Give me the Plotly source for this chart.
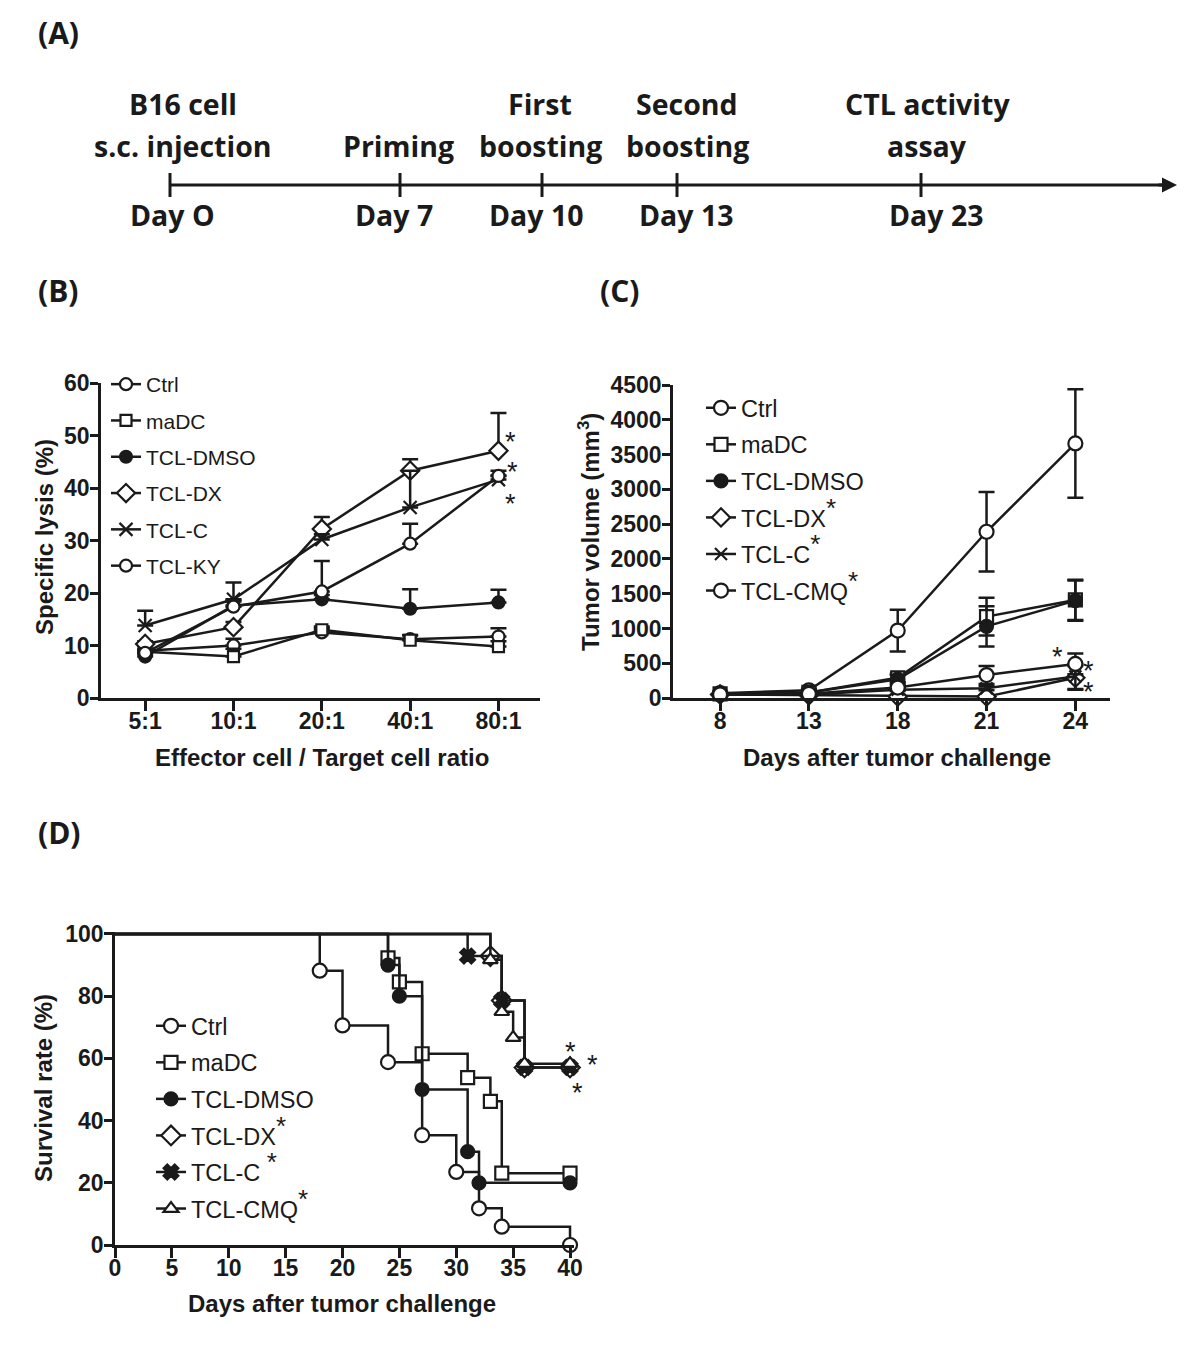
import plotly.graph_objects as go

W, H = 1200, 1352

# ---------------- data ----------------
# (A) immunisation schedule
event_top = ["B16 cell", "", "First", "Second", "CTL activity"]
event_bottom = ["s.c. injection", "Priming", "boosting", "boosting", "assay"]
event_days = ["Day O", "Day 7", "Day 10", "Day 13", "Day 23"]

# (B) CTL activity
ratio_labels = ["5:1", "10:1", "20:1", "40:1", "80:1"]
lysis_names = ["Ctrl", "maDC", "TCL-DMSO", "TCL-DX", "TCL-C", "TCL-KY"]
lysis_ctrl = [9.0, 10.0, 12.5, 11.2, 11.7]
lysis_madc = [8.8, 7.9, 13.0, 11.0, 9.8]
lysis_dmso = [7.9, 17.6, 18.8, 17.0, 18.2]
lysis_dx = [10.3, 13.5, 32.2, 43.3, 47.1]
lysis_c = [13.8, 18.8, 30.2, 36.3, 41.6]
lysis_ky = [8.6, 17.4, 20.3, 29.4, 42.3]
lysis_ctrl_err = [0.8, 1.3, 0.8, 0.8, 1.6]
lysis_madc_err = [0.5, 1.5, 0.6, 0.9, 1.0]
lysis_dmso_err = [0.5, 1.0, 0.8, 3.7, 2.4]
lysis_dx_err = [0.5, 1.0, 2.3, 2.2, 7.2]
lysis_c_err = [2.8, 3.2, 1.0, 7.0, 0.8]
lysis_ky_err = [0.6, 1.0, 5.8, 3.8, 1.0]

# (C) tumour growth
STAR = "<sup><span style='font-size:26px'>*</span></sup>"
tumor_days = ["8", "13", "18", "21", "24"]
tumor_names = ["Ctrl", "maDC", "TCL-DMSO", "TCL-DX" + STAR, "TCL-C" + STAR, "TCL-CMQ" + STAR]
vol_ctrl = [70, 110, 970, 2390, 3660]
vol_madc = [60, 80, 290, 1170, 1410]
vol_dmso = [60, 80, 270, 1030, 1400]
vol_dx = [50, 40, 20, 20, 290]
vol_c = [50, 50, 120, 140, 310]
vol_cmq = [50, 60, 150, 330, 490]
vol_ctrl_err = [20, 20, 300, 570, 780]
vol_madc_err = [20, 20, 60, 270, 290]
vol_dmso_err = [20, 20, 60, 290, 290]
vol_dx_err = [10, 10, 10, 10, 170]
vol_c_err = [10, 10, 20, 30, 180]
vol_cmq_err = [10, 10, 30, 130, 150]

# (D) survival (Kaplan-Meier steps)
surv_names = ["Ctrl", "maDC", "TCL-DMSO", "TCL-DX" + STAR, "TCL-C " + STAR, "TCL-CMQ" + STAR]
surv_ctrl_t = [0, 18, 20, 24, 27, 30, 32, 34, 40]
surv_ctrl_s = [100, 88.2, 70.6, 58.8, 35.3, 23.5, 11.8, 5.9, 0]
surv_madc_t = [0, 24, 25, 27, 31, 33, 34, 40]
surv_madc_s = [100, 92.3, 84.6, 61.5, 53.8, 46.2, 23.1, 23.1]
surv_dmso_t = [0, 24, 25, 27, 31, 32, 40]
surv_dmso_s = [100, 90, 80, 50, 30, 20, 20]
surv_dx_t = [0, 33, 34, 36, 40]
surv_dx_s = [100, 92.9, 78.6, 57.1, 57.1]
surv_c_t = [0, 31, 34, 36, 40]
surv_c_s = [100, 92.9, 78.6, 57.1, 57.1]
surv_cmq_t = [0, 33, 34, 35, 36, 40]
surv_cmq_s = [100, 91.7, 75, 66.7, 58.3, 58.3]

# ---------------- styling ----------------
BOLD = "Liberation Sans, Arial, sans-serif"
REG = "Liberation Sans, Arial, sans-serif"
CAL = "Open Sans, Lato, sans-serif"
BLACK = "#1a1a1a"
LW = 2.5


def px(x):
    return x / W


def py(y):
    return 1 - y / H


fig = go.Figure()

styles_B = [
    dict(symbol="circle", color="white", size=12),
    dict(symbol="square", color="white", size=11),
    dict(symbol="circle", color=BLACK, size=12),
    dict(symbol="diamond", color="white", size=14),
    dict(symbol="x-thin-open", color=BLACK, size=13),
    dict(symbol="circle", color="white", size=12),
]
B_vals = [lysis_ctrl, lysis_madc, lysis_dmso, lysis_dx, lysis_c, lysis_ky]
B_errs = [lysis_ctrl_err, lysis_madc_err, lysis_dmso_err, lysis_dx_err, lysis_c_err, lysis_ky_err]
for i, (name, vals, errs, st) in enumerate(zip(lysis_names, B_vals, B_errs, styles_B)):
    fig.add_trace(go.Scatter(
        x=ratio_labels, y=vals, name=name, mode="lines+markers",
        xaxis="x", yaxis="y", legend="legend", legendgroup="b%d" % i,
        line=dict(color=BLACK, width=LW),
        marker=dict(symbol=st["symbol"], size=st["size"], color=st["color"],
                    line=dict(color=BLACK, width=2.2)),
        error_y=dict(type="data", symmetric=False, array=errs, arrayminus=[0] * len(errs),
                     color=BLACK, thickness=LW, width=8),
        cliponaxis=False,
    ))

styles_C = [
    dict(symbol="circle", color="white", size=14),
    dict(symbol="square", color="white", size=13),
    dict(symbol="circle", color=BLACK, size=13),
    dict(symbol="diamond", color="white", size=14),
    dict(symbol="x-thin-open", color=BLACK, size=12),
    dict(symbol="circle", color="white", size=14),
]
C_vals = [vol_ctrl, vol_madc, vol_dmso, vol_dx, vol_c, vol_cmq]
C_errs = [vol_ctrl_err, vol_madc_err, vol_dmso_err, vol_dx_err, vol_c_err, vol_cmq_err]
for i, (name, vals, errs, st) in enumerate(zip(tumor_names, C_vals, C_errs, styles_C)):
    fig.add_trace(go.Scatter(
        x=tumor_days, y=vals, name=name, mode="lines+markers",
        xaxis="x2", yaxis="y2", legend="legend2", legendgroup="c%d" % i,
        line=dict(color=BLACK, width=LW),
        marker=dict(symbol=st["symbol"], size=st["size"], color=st["color"],
                    line=dict(color=BLACK, width=2.2)),
        error_y=dict(type="data", array=errs, color=BLACK, thickness=LW, width=8),
        cliponaxis=False,
    ))

styles_D = [
    dict(symbol="circle", color="white", size=14),
    dict(symbol="square", color="white", size=13),
    dict(symbol="circle", color=BLACK, size=13),
    dict(symbol="diamond", color="white", size=15),
    dict(symbol="x", color=BLACK, size=13),
    dict(symbol="triangle-up", color="white", size=13),
]
D_t = [surv_ctrl_t, surv_madc_t, surv_dmso_t, surv_dx_t, surv_c_t, surv_cmq_t]
D_s = [surv_ctrl_s, surv_madc_s, surv_dmso_s, surv_dx_s, surv_c_s, surv_cmq_s]
for i, (name, t, s, st) in enumerate(zip(surv_names, D_t, D_s, styles_D)):
    mk = dict(symbol=st["symbol"], size=st["size"], color=st["color"],
              line=dict(color=BLACK, width=2.2))
    fig.add_trace(go.Scatter(
        x=t, y=s, mode="lines", line=dict(color=BLACK, width=LW, shape="hv"),
        xaxis="x3", yaxis="y3", showlegend=False, hoverinfo="skip",
    ))
    fig.add_trace(go.Scatter(
        x=t[1:], y=s[1:], mode="markers", marker=mk, name=name,
        xaxis="x3", yaxis="y3", showlegend=False, cliponaxis=False,
    ))
    fig.add_trace(go.Scatter(
        x=[None], y=[None], mode="lines+markers", name=name, marker=mk,
        line=dict(color=BLACK, width=LW), xaxis="x3", yaxis="y3",
        legend="legend3", legendgroup="d%d" % i,
    ))

axis_common = dict(
    showline=True, linecolor=BLACK, linewidth=LW, ticks="outside",
    tickwidth=LW, tickcolor=BLACK, showgrid=False, zeroline=False,
    tickfont=dict(family=BOLD, size=23, color=BLACK, weight="bold"),
    fixedrange=True, automargin=False,
)
xax = dict(axis_common, ticklen=10, ticklabelstandoff=-9)
yax = dict(axis_common, ticklen=8, ticklabelstandoff=-4)

layout = dict(
    width=W, height=H, margin=dict(l=0, r=0, t=0, b=0, autoexpand=False),
    paper_bgcolor="white", plot_bgcolor="rgba(0,0,0,0)",
    showlegend=True,
    xaxis=dict(xax, domain=[px(101), px(540)], anchor="y", type="category",
               range=[-0.5, 4.47]),
    yaxis=dict(yax, domain=[py(698), py(383)], anchor="x", range=[0, 60], dtick=10),
    xaxis2=dict(xax, domain=[px(673), px(1110)], anchor="y2", type="category",
                range=[-0.53, 4.39]),
    yaxis2=dict(yax, domain=[py(698), py(385)], anchor="x2", range=[0, 4500], dtick=500),
    xaxis3=dict(xax, domain=[px(115), px(574)], anchor="y3", range=[0, 40.35], dtick=5),
    yaxis3=dict(yax, domain=[py(1245), py(931.5)], anchor="x3", range=[0, 100.8],
                tickvals=[0, 20, 40, 60, 80, 100]),
)
leg_common = dict(
    bgcolor="rgba(0,0,0,0)", traceorder="grouped", xanchor="left", yanchor="top",
    itemclick=False, itemdoubleclick=False,
)
layout["legend"] = dict(leg_common, x=px(106), y=py(364), tracegroupgap=6,
                        font=dict(family=REG, size=21, color=BLACK))
layout["legend2"] = dict(leg_common, x=px(701), y=py(386), tracegroupgap=3,
                         font=dict(family=REG, size=23.5, color=BLACK))
layout["legend3"] = dict(leg_common, x=px(151), y=py(1004), tracegroupgap=3,
                         font=dict(family=REG, size=23.5, color=BLACK))
fig.update_layout(**layout)

ann = []


def add_text(x, y, text, size, family, bold=True, angle=0, xanchor="center"):
    ann.append(dict(x=x, y=y, xref="paper", yref="paper", text=text, showarrow=False,
                    xanchor=xanchor, yanchor="middle", textangle=angle,
                    font=dict(family=family, size=size, color=BLACK,
                              weight="bold" if bold else "normal")))


# panel letters
for lab, x, y in [("(A)", 36, 32), ("(B)", 36, 290), ("(C)", 598, 290), ("(D)", 36, 832)]:
    add_text(px(x), py(y), lab, 30, CAL, xanchor="left")

# axis titles
add_text(px(322), py(757), "Effector cell / Target cell ratio", 24, BOLD)
add_text(px(44), py(537), "Specific lysis (%)", 24, BOLD, angle=-90)
add_text(px(897), py(757), "Days after tumor challenge", 24, BOLD)
add_text(px(589), py(532), "Tumor volume (mm<sup>3</sup>)", 24, BOLD, angle=-90)
add_text(px(342), py(1303), "Days after tumor challenge", 24, BOLD)
add_text(px(43), py(1088), "Survival rate (%)", 24, BOLD, angle=-90)

# (A) schedule diagram (schematic positions)
tick_px = [170, 400, 542, 677, 921]
label_px = [183, 398, 540, 687, 927]
day_px = [172, 394, 536, 686, 936]
line_y = 185
shapes = [dict(type="line", xref="paper", yref="paper", x0=px(tick_px[0]), x1=px(1168),
               y0=py(line_y), y1=py(line_y), line=dict(color=BLACK, width=3))]
for tx in tick_px:
    shapes.append(dict(type="line", xref="paper", yref="paper", x0=px(tx), x1=px(tx),
                       y0=py(173), y1=py(197), line=dict(color=BLACK, width=3)))
for top, bot, day, lx, dx in zip(event_top, event_bottom, event_days, label_px, day_px):
    if top:
        add_text(px(lx), py(104), top, 28.5, CAL)
    add_text(px(lx), py(146), bot, 28.5, CAL)
    add_text(px(dx), py(215), day, 28.5, CAL)
ann.append(dict(x=px(1177), y=py(line_y), xref="paper", yref="paper", ax=-20, ay=0,
                showarrow=True, arrowhead=2, arrowsize=1, arrowwidth=3, arrowcolor=BLACK,
                text=""))

# significance asterisks
star_font = dict(family=REG, size=27, color=BLACK)
for xr, yr, x, y, xs in [("x", "y", 4, 48.8, 12), ("x", "y", 4, 43.0, 14), ("x", "y", 4, 37.0, 12),
                         ("x2", "y2", 4, 590, -18), ("x2", "y2", 4, 390, 13), ("x2", "y2", 4, 90, 13),
                         ("x3", "y3", 40, 62, 0), ("x3", "y3", 40, 58, 22), ("x3", "y3", 40, 49, 7)]:
    ann.append(dict(x=x, y=y, xref=xr, yref=yr, text="*", showarrow=False, xshift=xs,
                    font=star_font, yanchor="middle"))

fig.update_layout(annotations=ann, shapes=shapes)
fig.write_html("out.html", config={"displayModeBar": False},
               post_script="document.body.style.margin='0';")
